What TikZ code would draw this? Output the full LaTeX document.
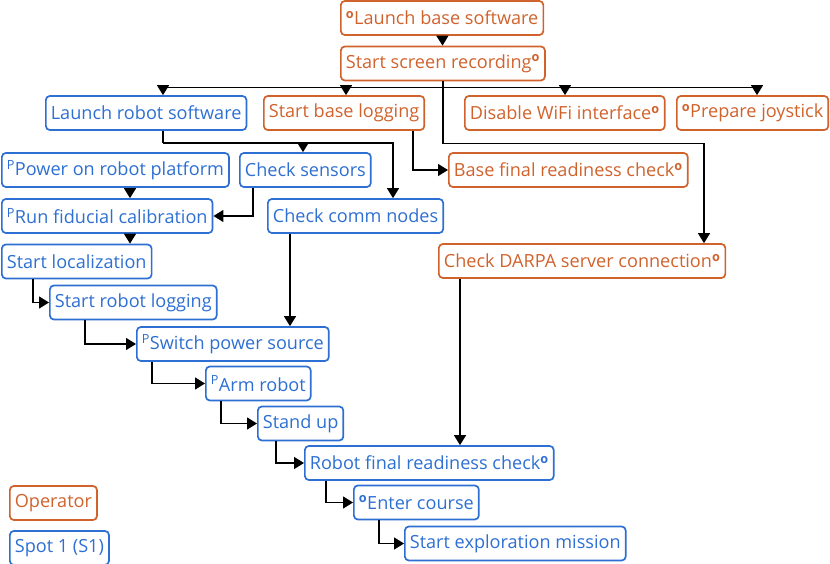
\documentclass[tikz,border=0pt]{standalone}
\usepackage{fontspec}
\setmainfont{Open Sans}
\usetikzlibrary{arrows.meta,positioning}
\definecolor{opOrange}{RGB}{208,98,44}
\definecolor{spotBlue}{RGB}{45,111,210}
\newcommand{\opmark}{\textsuperscript{\bfseries o}}
\newcommand{\pmark}{\textsuperscript{P}}
\tikzset{
  task/.style={draw, rounded corners=4pt, line width=1.7pt, minimum height=34pt,
    inner xsep=5pt, anchor=west, font=\fontsize{18.1}{21}\selectfont},
  opbox/.style={task, draw=opOrange, text=opOrange},
  s1box/.style={task, draw=spotBlue, text=spotBlue},
  flow/.style={-{Triangle[length=10pt,width=12pt]}, line width=1.4pt},
}

\begin{document}
\begin{tikzpicture}[x=1pt,y=-1pt]
\useasboundingbox (0,0) rectangle (830,564);

% operator tasks
\node[opbox] (launchBase) at (340,18) {\opmark Launch base software};
\node[opbox] (screenRec) at (340,63.5) {Start screen recording\opmark};
\node[opbox] (baseLog) at (263,113) {Start base logging};
\node[opbox] (wifi) at (464,113) {Disable WiFi interface\opmark};
\node[opbox] (joystick) at (676,113) {\opmark Prepare joystick};
\node[opbox] (baseFinal) at (448,170) {Base final readiness check\opmark};
\node[opbox] (darpa) at (438,261) {Check DARPA server connection\opmark};

% robot tasks
\node[s1box] (launchRobot) at (45,113) {Launch robot software};
\node[s1box] (powerOn) at (1,170) {\pmark Power on robot platform};
\node[s1box] (sensors) at (239,170) {Check sensors};
\node[s1box] (fiducial) at (1,216) {\pmark Run fiducial calibration};
\node[s1box] (commNodes) at (267,216) {Check comm nodes};
\node[s1box] (localize) at (1,261.5) {Start localization};
\node[s1box] (robLog) at (49,302.5) {Start robot logging};
\node[s1box] (switchPower) at (136,344) {\pmark Switch power source};
\node[s1box] (armRobot) at (205,383.5) {\pmark Arm robot};
\node[s1box] (standUp) at (257,423.5) {Stand up};
\node[s1box] (robFinal) at (304,463) {Robot final readiness check\opmark};
\node[s1box] (enterCourse) at (353,502.5) {\opmark Enter course};
\node[s1box] (explore) at (404,543.5) {Start exploration mission};

% legend
\node[opbox] (legOp) at (9,503) {Operator};
\node[s1box] (legS1) at (9,548) {Spot 1 (S1)};

% base side
\draw[flow] (launchBase) -- (screenRec);
\coordinate (bus) at ([yshift=-6pt]screenRec.south);
\draw[flow] (bus) -| ([xshift=118pt]launchRobot.north west);
\draw[flow] (bus) -| ([xshift=83pt]baseLog.north west);
\draw[flow] (bus) -| ([xshift=101pt]wifi.north west);
\draw[flow] (bus) -| ([xshift=81pt]joystick.north west);
\draw[flow] (screenRec.south) -- ++(0,62) -| ([xshift=266pt]darpa.north west);
\draw[flow] ([xshift=150pt]baseLog.south west) |- (baseFinal.west);

% robot side
\coordinate (robBus) at ([xshift=118pt,yshift=-12pt]launchRobot.south west);
\draw[line width=1.4pt] ([xshift=118pt]launchRobot.south west) -- (robBus);
\draw[flow] (robBus) -| ([xshift=64pt]sensors.north west);
\draw[flow] (robBus) -| ([xshift=126pt]commNodes.north west);
\draw[flow] ([xshift=129pt]powerOn.south west) -- ([xshift=129pt]powerOn.south west |- fiducial.north);
\draw[flow] ([xshift=14pt]sensors.south west) |- (fiducial.east);
\draw[flow] ([xshift=129pt]fiducial.south west) -- ([xshift=129pt]fiducial.south west |- localize.north);
\draw[flow] ([xshift=32pt]localize.south west) |- (robLog.west);
\draw[flow] ([xshift=36pt]robLog.south west) |- (switchPower.west);
\draw[flow] ([xshift=23pt]commNodes.south west) -- ([xshift=23pt]commNodes.south west |- switchPower.north);
\draw[flow] ([xshift=16pt]switchPower.south west) |- (armRobot.west);
\draw[flow] ([xshift=16pt]armRobot.south west) |- (standUp.west);
\draw[flow] ([xshift=19pt]standUp.south west) |- (robFinal.west);
\draw[flow] ([xshift=22pt]darpa.south west) -- ([xshift=22pt]darpa.south west |- robFinal.north);
\draw[flow] ([xshift=22pt]robFinal.south west) |- (enterCourse.west);
\draw[flow] ([xshift=26pt]enterCourse.south west) |- (explore.west);
\end{tikzpicture}
\end{document}
